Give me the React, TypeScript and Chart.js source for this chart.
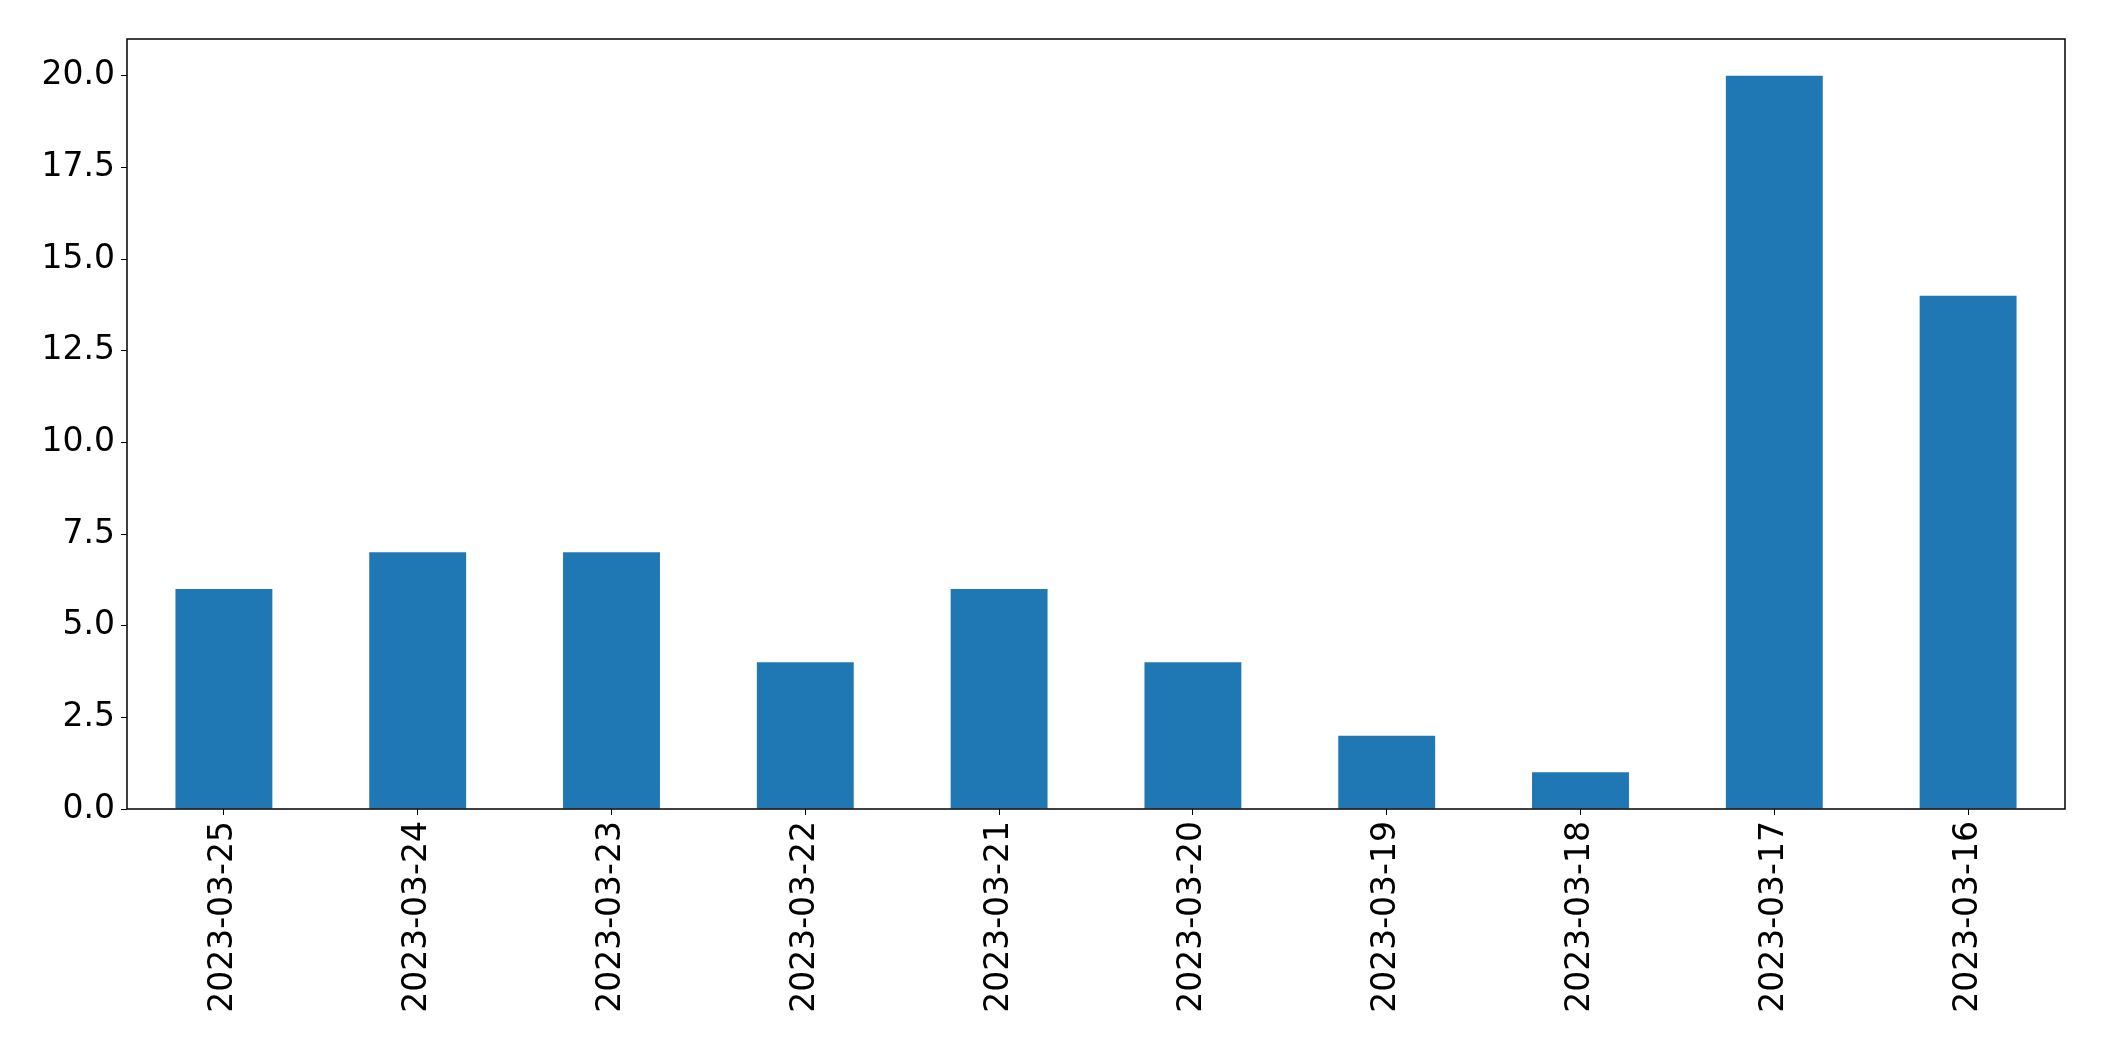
import React, { useEffect, useRef } from "react";
import { Chart, registerables } from "chart.js";

Chart.register(...registerables);

const categories = [
  "2023-03-25",
  "2023-03-24",
  "2023-03-23",
  "2023-03-22",
  "2023-03-21",
  "2023-03-20",
  "2023-03-19",
  "2023-03-18",
  "2023-03-17",
  "2023-03-16",
];
const values = [6, 7, 7, 4, 6, 4, 2, 1, 20, 14];
const yTicks = [0, 2.5, 5, 7.5, 10, 12.5, 15, 17.5, 20];

const frame = {
  id: "frame",
  afterDraw(chart: any) {
    const { ctx, chartArea } = chart;
    ctx.save();
    ctx.strokeStyle = "#000";
    ctx.lineWidth = 1.5;
    ctx.strokeRect(chartArea.left, chartArea.top, chartArea.right - chartArea.left, chartArea.bottom - chartArea.top);
    ctx.restore();
  },
};

export default function App() {
  const ref = useRef<HTMLCanvasElement>(null);
  useEffect(() => {
    const font = { family: "'DejaVu Sans', sans-serif", size: 33 };
    const chart = new Chart(ref.current!, {
      type: "bar",
      data: {
        labels: categories,
        datasets: [
          {
            data: values,
            backgroundColor: "#1f77b4",
            categoryPercentage: 1,
            barPercentage: 0.5,
          },
        ],
      },
      plugins: [frame],
      options: {
        animation: false,
        responsive: false,
        devicePixelRatio: 1,
        layout: { padding: { top: 39, right: 39, left: 0, bottom: 0 } },
        plugins: { legend: { display: false }, tooltip: { enabled: false } },
        scales: {
          x: {
            offset: true,
            grid: { display: true, drawOnChartArea: false, drawTicks: true, tickLength: 6, color: "#000", offset: false },
            border: { display: false },
            ticks: { color: "#000", font, minRotation: 90, maxRotation: 90, padding: 6, autoSkip: false },
            afterFit(scale: any) {
              scale.height = 252;
            },
          },
          y: {
            min: 0,
            max: 21,
            grid: { display: true, drawOnChartArea: false, drawTicks: true, tickLength: 6, color: "#000" },
            border: { display: false },
            ticks: {
              color: "#000",
              font,
              padding: 6,
              callback: (v: any) => Number(v).toFixed(1),
            },
            afterBuildTicks(scale: any) {
              scale.ticks = yTicks.map((v) => ({ value: v }));
            },
            afterFit(scale: any) {
              scale.width = 127;
            },
          },
        },
      },
    });
    return () => chart.destroy();
  }, []);
  return (
    <canvas
      ref={ref}
      width={2104}
      height={1061}
      style={{ position: "absolute", left: 0, top: 0, display: "block", width: 2104, height: 1061 }}
    />
  );
}
